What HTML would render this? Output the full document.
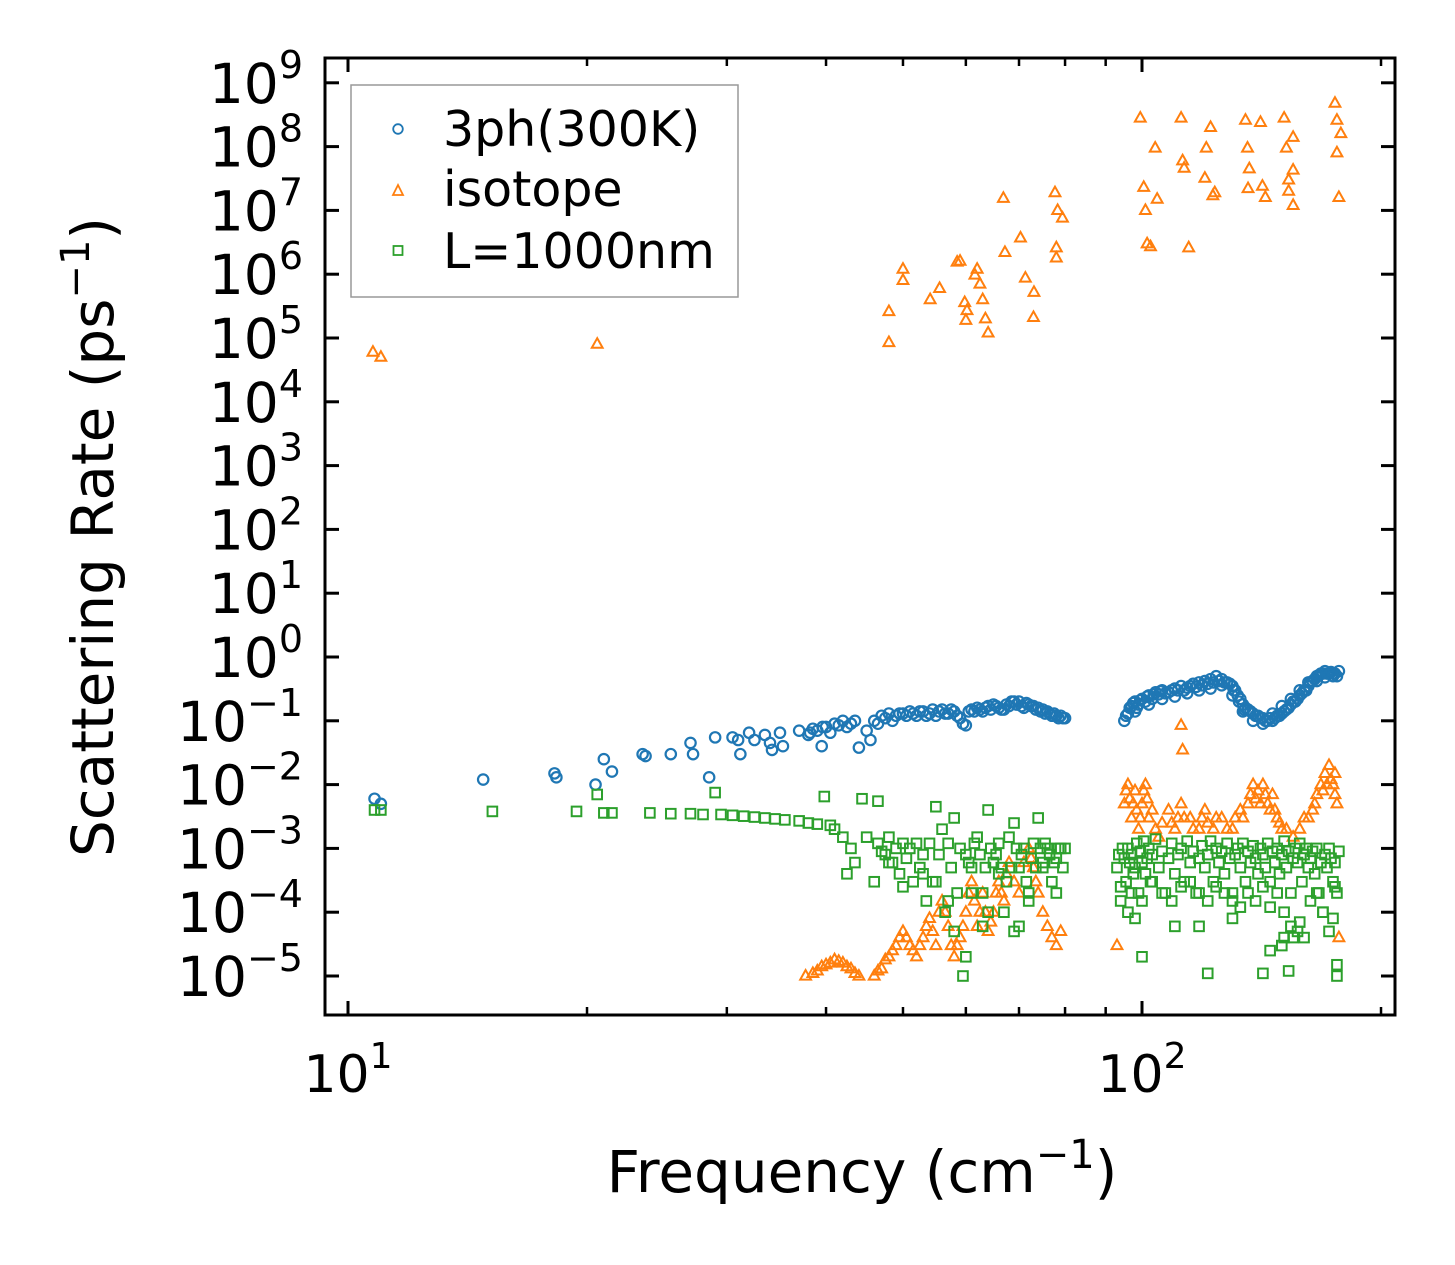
<!DOCTYPE html>
<html><head><meta charset="utf-8"><style>
html,body{margin:0;padding:0;background:#fff;}
svg{display:block;font-family:"DejaVu Sans","Liberation Sans",sans-serif;}
</style></head><body>
<svg id="chart" width="1455" height="1265" viewBox="0 0 1455 1265" xmlns="http://www.w3.org/2000/svg">
<rect x="0" y="0" width="1455" height="1265" fill="#fff"/>
<g id="marks"></g>
<g id="axes"></g>
<g>
<rect x="351" y="85" width="387" height="212" fill="#fff" stroke="#999" stroke-width="1.5"/>
<circle cx="398" cy="129" r="4.8" fill="none" stroke="#1f77b4" stroke-width="1.8"/>
<text x="443" y="146" font-size="49">3ph(300K)</text>
<polygon points="398,185 393,195 403,195" fill="none" stroke="#ff7f0e" stroke-width="1.8"/>
<text x="443" y="206" font-size="49">isotope</text>
<rect x="393.5" y="246" width="9" height="9" fill="none" stroke="#2ca02c" stroke-width="1.8"/>
<text x="443" y="268" font-size="49">L=1000nm</text>
</g>
<text x="862" y="1192" font-size="58" text-anchor="middle">Frequency (cm<tspan dy="-24" font-size="40">−1</tspan><tspan dy="24">)</tspan></text>
<text transform="translate(113,537) rotate(-90)" font-size="58" text-anchor="middle">Scattering Rate (ps<tspan dy="-24" font-size="40">−1</tspan><tspan dy="24">)</tspan></text>
</svg>
<script>
// ---- data: [frequency cm^-1, rate ps^-1] ----
const blueSparse = [[10.8,0.006],[11,0.005],[14.8,0.012],[18.2,0.015],[18.3,0.013],[20.5,0.01],[21,0.025],[21.5,0.016],[23.5,0.03],[23.7,0.028],[25.5,0.03],[27,0.045],[27.2,0.03],[28.5,0.013],[29,0.055],[30.5,0.055],[31,0.05],[31.2,0.03],[32,0.065],[32.5,0.05],[33.5,0.06],[34,0.045],[34.2,0.035],[35,0.065],[35.3,0.04],[37,0.07],[38,0.06],[38.5,0.075],[39.5,0.04],[44,0.038]];
const blueLeft = [[38.2,0.065],[39,0.07],[39.6,0.08],[40,0.08],[40.5,0.065],[41,0.09],[41.5,0.085],[42,0.1],[42.5,0.08],[43,0.09],[43.5,0.1],[45,0.07],[45.5,0.05],[46,0.1],[46.5,0.09],[47,0.12],[47.5,0.11],[48,0.13],[48.5,0.1],[49,0.12],[49.5,0.13],[50,0.13],[50.5,0.12],[51,0.14],[51.5,0.13],[52,0.12],[52.5,0.14],[53,0.14],[53.5,0.12],[54,0.13],[54.5,0.15],[55,0.12],[55.5,0.14],[56,0.15],[56.5,0.13],[57,0.13],[57.5,0.15],[58,0.14],[58.5,0.12],[59,0.11],[59.5,0.09],[60,0.085],[60.5,0.14],[61,0.15],[61.5,0.14],[62,0.16],[62.5,0.15],[63,0.14],[63.5,0.16],[64,0.17],[64.5,0.15],[65,0.18],[65.5,0.17],[66,0.16],[66.5,0.15],[67,0.15],[67.5,0.18],[68,0.17],[68.5,0.2],[69,0.2],[69.5,0.18],[70,0.2],[70.5,0.17],[71,0.16],[71.5,0.19],[72,0.18],[72.5,0.17],[73,0.17],[73.5,0.15],[74,0.16],[74.5,0.14],[75,0.15],[75.5,0.13],[76,0.14],[76.5,0.13],[77,0.12],[77.5,0.13],[78,0.12],[78.5,0.11],[79,0.12],[79.5,0.11],[80,0.11]];
const blueRight = [[95,0.1],[95.5,0.12],[96,0.13],[96.5,0.16],[97,0.17],[97.5,0.19],[98,0.2],[98.5,0.16],[99,0.18],[99.5,0.21],[100,0.22],[101,0.2],[101.5,0.24],[102,0.25],[103,0.22],[103.5,0.26],[104,0.28],[105,0.26],[105.5,0.29],[106,0.3],[107,0.27],[108,0.28],[109,0.3],[110,0.32],[111,0.3],[112,0.35],[113,0.3],[114,0.33],[115,0.35],[116,0.38],[117,0.34],[118,0.4],[119,0.36],[120,0.42],[121,0.38],[122,0.45],[123,0.4],[124,0.5],[125,0.42],[126,0.45],[127,0.4],[128,0.4],[129,0.38],[130,0.35],[130.5,0.3],[131,0.3],[132,0.25],[132.5,0.2],[133,0.22],[134,0.18],[134.5,0.15],[135,0.16],[136,0.15],[137,0.14],[138,0.13],[139,0.12],[140,0.12],[141,0.11],[142,0.11],[143,0.1],[144,0.1],[145,0.11],[146,0.1],[147,0.11],[148,0.12],[149,0.12],[150,0.13],[151,0.14],[152,0.15],[153,0.16],[154,0.18],[155,0.2],[156,0.2],[157,0.22],[158,0.25],[159,0.27],[160,0.3],[161,0.3],[162,0.35],[163,0.4],[164,0.42],[165,0.45],[166,0.5],[167,0.52],[168,0.55],[169,0.55],[170,0.6],[171,0.55],[172,0.55],[173,0.58],[174,0.55],[175,0.55],[176,0.5],[177,0.6],[98,0.14],[102,0.18],[106,0.22],[110,0.24],[114,0.27],[118,0.3],[122,0.32],[126,0.36],[130,0.25],[134,0.14],[138,0.1],[142,0.09],[146,0.13],[150,0.17],[154,0.22],[158,0.3],[162,0.4],[166,0.42],[170,0.48],[174,0.5]];

const isoHigh = [[10.75,6e4],[11,5e4],[20.6,8e4],[48,8.5e4],[48,2.6e5],[50,1.2e6],[50,8e5],[54.1,4e5],[55.6,6e5],[58.5,1.55e6],[59,1.6e6],[59.8,3.6e5],[60.2,2.7e5],[60,1.9e5],[61.6,9.7e5],[62,1.2e6],[62.5,7e5],[63,4e5],[63.5,2e5],[64,1.2e5],[66.9,1.55e7],[67.2,2.2e6],[70.3,3.7e6],[71.3,8.7e5],[73.1,5.2e5],[73,2.1e5],[77.7,1.9e7],[78.3,1e7],[79.4,7.6e6],[78,2.6e6],[78,1.8e6],
[99.5,2.8e8],[100.5,2.3e7],[101,1e7],[101.5,3e6],[102.5,2.7e6],[103.9,9.5e7],[104.5,1.5e7],[112,2.8e8],[112.5,6e7],[113,4.6e7],[114.5,2.6e6],[120,3.2e7],[120.5,9.5e7],[122,2e8],[122.8,1.7e7],[123.5,1.9e7],[135,2.6e8],[135.8,9.5e7],[136,2.2e7],[136.5,4.5e7],[141,2.4e8],[141.8,2.4e7],[143,1.6e7],[151,2.8e8],[152,9.5e7],[153,3e7],[153,2e7],[155,1.4e8],[155,4.3e7],[155,1.2e7],[175,4.8e8],[176,2.6e8],[177,1.6e7],[178,1.6e8],[176,8e7],[112,0.085],[112.5,0.035]];
const isoLowLeft = [[37.7,1e-5],[38.5,1.1e-5],[39,1.2e-5],[39.5,1.4e-5],[40,1.5e-5],[40.5,1.6e-5],[41,1.8e-5],[41.5,1.7e-5],[42,1.6e-5],[42.5,1.4e-5],[43,1.3e-5],[43.5,1.1e-5],[44,1e-5],[46,1e-5],[46.5,1.2e-5],[47,1.3e-5],[47.5,1.8e-5],[48,2e-5],[48.5,2.5e-5],[49,3e-5],[49.5,4e-5],[50,5e-5],[50.5,4e-5],[51,3e-5],[51.5,2.5e-5],[52,2e-5],[52.5,3e-5],[53,4e-5],[53.5,6e-5],[54,8e-5],[54.5,5e-5],[55,3e-5],[55.5,1e-4],[56,1.5e-4],[56.5,1e-4],[57,6e-5],[57.5,3e-5],[58,2e-5],[58.5,3e-5],[59,4e-5],[59.5,6e-5],[60,1e-4],[60.5,2e-4],[61,3e-4],[61.5,1.5e-4],[62,6e-5],[62.5,1e-4],[63,2e-4],[63.5,1e-4],[64,5e-5],[64.5,7e-5],[65,1e-4],[65.5,2e-4],[66,3e-4],[66.5,2e-4],[67,1.5e-4],[67.5,4e-4],[68,6e-4],[69,3e-4],[70,2e-4],[71,6e-4],[72,1e-3],[72.5,7e-4],[73,5e-4],[73.5,3e-4],[74,2e-4],[75,1e-4],[76,6e-5],[77,4e-5],[78,3e-5],[79,5e-5]];
const isoLowRight = [[93,3e-5],[95,5e-3],[95.5,8e-3],[96,1e-2],[96.5,6e-3],[97,3e-3],[97.5,5e-3],[98,8e-3],[98.5,4e-3],[99,2e-3],[99.5,3e-3],[100,5e-3],[100.5,8e-3],[101,1e-2],[101.5,6e-3],[102,3e-3],[103,4e-3],[104,2e-3],[105,1.5e-3],[106,2.5e-3],[108,4e-3],[109,2.5e-3],[110,2e-3],[111,3e-3],[112,5e-3],[113,3e-3],[115,3e-3],[116,2e-3],[118,2e-3],[119,3e-3],[120,4e-3],[121,2.5e-3],[123,2e-3],[124,3e-3],[126,3e-3],[128,2e-3],[130,2e-3],[131,3e-3],[133,4e-3],[134,3e-3],[136,5e-3],[137,7e-3],[138,1e-2],[139,6e-3],[140,8e-3],[141,5e-3],[142,1e-2],[143,7e-3],[144,5e-3],[145,4e-3],[146,7e-3],[147,4e-3],[148,3e-3],[149,2.5e-3],[150,2e-3],[152,2e-3],[155,1.5e-3],[158,2e-3],[160,3e-3],[162,3e-3],[164,4e-3],[165,5e-3],[166,7e-3],[168,1e-2],[169,8e-3],[170,1.5e-2],[171,1e-2],[172,2e-2],[173,1.2e-2],[174,1e-2],[175,7e-3],[176,5e-3],[177,4e-5],[175,1.5e-2]];

const sizeSparse = [[10.8,4e-3],[11,4e-3],[15.2,3.8e-3],[19.4,3.8e-3],[20.6,7e-3],[21,3.6e-3],[21.5,3.6e-3],[24,3.6e-3],[25.5,3.5e-3],[27,3.5e-3],[28,3.4e-3],[29,7.5e-3],[29.5,3.4e-3],[30.5,3.3e-3],[31.5,3.2e-3],[32.5,3.1e-3],[33.5,3e-3],[34.5,2.9e-3],[35.5,2.8e-3],[37,2.7e-3],[38,2.5e-3],[39,2.4e-3],[39.8,6.5e-3],[40.5,2.3e-3],[41,2e-3],[42,1.5e-3],[42.5,4e-4],[43,1e-3],[43.5,6e-4],[44.4,6e-3],[46.5,5.5e-3],[45,1.5e-3],[46,3e-4]];
const sizeLeft = [[46.5,1.2e-3],[47,9e-4],[47.5,8e-4],[48,1.5e-3],[48.5,6e-4],[49,1e-3],[49.5,4e-4],[50,1.2e-3],[50.5,7e-4],[51,1e-3],[51.5,3e-4],[52,1.2e-3],[52.5,5e-4],[53,8e-4],[53.5,1.5e-4],[54,1.2e-3],[54.5,3e-4],[55,4.5e-3],[55.5,8e-4],[56,2e-3],[56.5,1e-4],[57,1.2e-3],[57.5,5e-4],[58,3e-3],[58.5,2e-4],[59,1e-3],[59.5,1e-5],[60,8e-4],[60.5,6e-4],[61,5e-4],[61.5,1.2e-3],[62,1.5e-3],[62.5,8e-4],[63,2e-4],[63.5,5e-4],[64,4e-3],[64.5,1e-3],[65,6e-4],[65.5,8e-4],[66,1.2e-3],[66.5,5e-4],[67,1e-4],[67.5,3e-4],[68,1.5e-3],[68.5,5e-4],[69,2.5e-3],[69.5,1e-3],[70,5e-4],[70.5,8e-4],[71,1e-3],[71.5,3e-4],[72,2e-4],[72.5,7e-4],[73,1.2e-3],[73.5,5e-4],[74,3e-3],[74.5,1e-3],[75,6e-4],[75.5,1.2e-3],[76,1e-3],[76.5,8e-4],[77,3e-4],[77.5,6e-4],[78,7e-4],[78.5,1e-3],[79,1e-3],[79.5,5e-4],[80,1e-3],[55,3e-4],[57,1.5e-4],[58,5e-5],[61,2e-4],[63,6e-5],[66,4e-4],[69,5e-5],[72,1.5e-4],[75,5e-4],[78,2e-4],[60,2e-5],[64,1e-4],[70,6e-5],[50,2.5e-4],[53,4e-4],[48,6e-4]];
const sizeRight = [[93,5e-4],[93.5,8e-4],[94,1.5e-4],[94.5,1e-3],[95,7e-4],[95.5,3e-4],[96,1e-3],[96.5,6e-4],[97,8e-4],[97.5,4e-4],[98,5e-4],[98.5,1.2e-3],[99,2e-4],[99.5,9e-4],[100,6e-4],[100.5,1.3e-3],[101,4e-4],[101.5,7e-4],[102,1e-3],[102.5,3e-4],[103,8e-4],[104,1.4e-3],[105,5e-4],[106,9e-4],[107,2e-4],[108,7e-4],[109,1.2e-3],[110,4e-4],[111,8e-4],[112,1e-3],[113,3e-4],[114,1.3e-3],[115,6e-4],[116,9e-4],[117,2e-4],[118,7e-4],[119,1.1e-3],[120,5e-4],[121,8e-4],[122,1.3e-3],[123,3e-4],[124,1e-3],[125,6e-4],[126,9e-4],[127,4e-4],[128,1.2e-3],[129,7e-4],[130,2e-4],[131,8e-4],[132,1e-3],[133,5e-4],[134,1.2e-3],[135,3e-4],[136,9e-4],[137,6e-4],[138,1.1e-3],[139,7e-4],[140,4e-4],[141,1e-3],[142,8e-4],[143,5e-4],[144,1.2e-3],[145,3e-4],[146,9e-4],[147,6e-4],[148,1e-3],[149,4e-4],[150,8e-4],[151,1.3e-3],[152,5e-4],[153,9e-4],[154,2e-4],[155,7e-4],[156,1e-3],[157,6e-4],[158,1.2e-3],[159,3e-4],[160,8e-4],[161,1e-3],[162,5e-4],[163,7e-4],[164,9e-4],[165,4e-4],[166,1e-3],[167,2e-4],[168,6e-4],[169,1e-4],[170,8e-4],[171,5e-4],[172,1e-3],[173,7e-4],[174,3e-4],[175,6e-4],[176,2e-4],[177,9e-4],
[94,2.5e-4],[97,2e-4],[100,1.5e-4],[103,3e-4],[106,2e-4],[109,1.5e-4],[112,2.5e-4],[115,3e-4],[118,2e-4],[121,1.5e-4],[124,2.5e-4],[127,2e-4],[130,1.5e-4],[133,1.2e-4],[136,2e-4],[139,1.5e-4],[142,2.5e-4],[145,1.2e-4],[148,2e-4],[151,1e-4],[154,6e-5],[157,5e-5],[160,4e-5],[163,1.5e-4],[166,2e-4],[169,1e-4],[172,5e-5],[175,2.5e-4],
[100,2e-5],[118,6e-5],[121,1.1e-5],[142,1.1e-5],[145,2.5e-5],[151,4e-5],[153,1.2e-5],[176,1e-5],[176,1.5e-5],[155,4e-5],[98,8e-5],[96,1e-4],[110,6e-5],[130,8e-5],[150,3e-5],[158,7e-5],[174,8e-5]];

const xTickValues = [10,100];
const xTickExp = ["1","2"];
const xMinorValues = [20,30,40,50,60,70,80,90,200];
const yTickExp = [9,8,7,6,5,4,3,2,1,0,-1,-2,-3,-4,-5];

// ---- scales ----
const PL=325, PR=1395, PT=58, PB=1015;
const X0=348, XDEC=794;
function xs(v){ return X0 + (Math.log10(v)-1)*XDEC; }
const Y0=657, YDEC=63.8;
function ys(v){ return Y0 - Math.log10(v)*YDEC; }

const NS="http://www.w3.org/2000/svg";
function mk(tag, attrs, parent){
  const e=document.createElementNS(NS,tag);
  for(const k in attrs) e.setAttribute(k,attrs[k]);
  parent.appendChild(e); return e;
}
const marks=document.getElementById('marks');
const axes=document.getElementById('axes');

const gB=mk('g',{},marks);


const gO=mk('g',{},marks);


const gG=mk('g',{},marks);



function tri(cx,cy,s){ return `${cx},${cy-s} ${cx-s*0.9},${cy+s*0.6} ${cx+s*0.9},${cy+s*0.6}`; }

[blueSparse,blueLeft,blueRight].forEach(arr=>arr.forEach(d=>{
  const c=mk('circle',{cx:xs(d[0]),cy:ys(d[1]),r:5.2,fill:'none',stroke:'#1f77b4','stroke-width':2.2},gB);
  
  
}));
[isoHigh,isoLowLeft,isoLowRight].forEach(arr=>arr.forEach(d=>{
  const p=mk('polygon',{points:tri(xs(d[0]),ys(d[1]),6),fill:'none',stroke:'#ff7f0e','stroke-width':2},gO);
  
  
}));
[sizeSparse,sizeLeft,sizeRight].forEach(arr=>arr.forEach(d=>{
  const r=mk('rect',{x:xs(d[0])-4.8,y:ys(d[1])-4.8,width:9.6,height:9.6,fill:'none',stroke:'#2ca02c','stroke-width':2},gG);
  
  
}));

const frame=mk('rect',{x:PL,y:PT,width:PR-PL,height:PB-PT,fill:'none',stroke:'#000','stroke-width':3},axes);



xTickValues.forEach((v,i)=>{
  const x=xs(v);
  mk('line',{x1:x,y1:PB,x2:x,y2:PB-14,stroke:'#000','stroke-width':3},axes);
  mk('line',{x1:x,y1:PT,x2:x,y2:PT+14,stroke:'#000','stroke-width':3},axes);
  const t=mk('text',{x:x,y:1092,'font-size':52,'text-anchor':'middle',fill:'#000'},axes);
  
  
  t.textContent='10';
  const s=mk('tspan',{dy:-24,'font-size':36},t); s.textContent=xTickExp[i];
});
xMinorValues.forEach(v=>{
  const x=xs(v);
  mk('line',{x1:x,y1:PB,x2:x,y2:PB-8,stroke:'#000','stroke-width':2.5},axes);
  mk('line',{x1:x,y1:PT,x2:x,y2:PT+8,stroke:'#000','stroke-width':2.5},axes);
});
yTickExp.forEach(e=>{
  const y=ys(Math.pow(10,e));
  mk('line',{x1:PL,y1:y,x2:PL+14,y2:y,stroke:'#000','stroke-width':3},axes);
  mk('line',{x1:PR,y1:y,x2:PR-14,y2:y,stroke:'#000','stroke-width':3},axes);
  const t=mk('text',{x:303,y:y+20,'font-size':55,'text-anchor':'end',fill:'#000'},axes);
  
  
  t.textContent='10';
  const s=mk('tspan',{dy:-25,'font-size':38},t); s.textContent=(e<0?'\u2212'+(-e):String(e));
});
</script>
</body></html>
